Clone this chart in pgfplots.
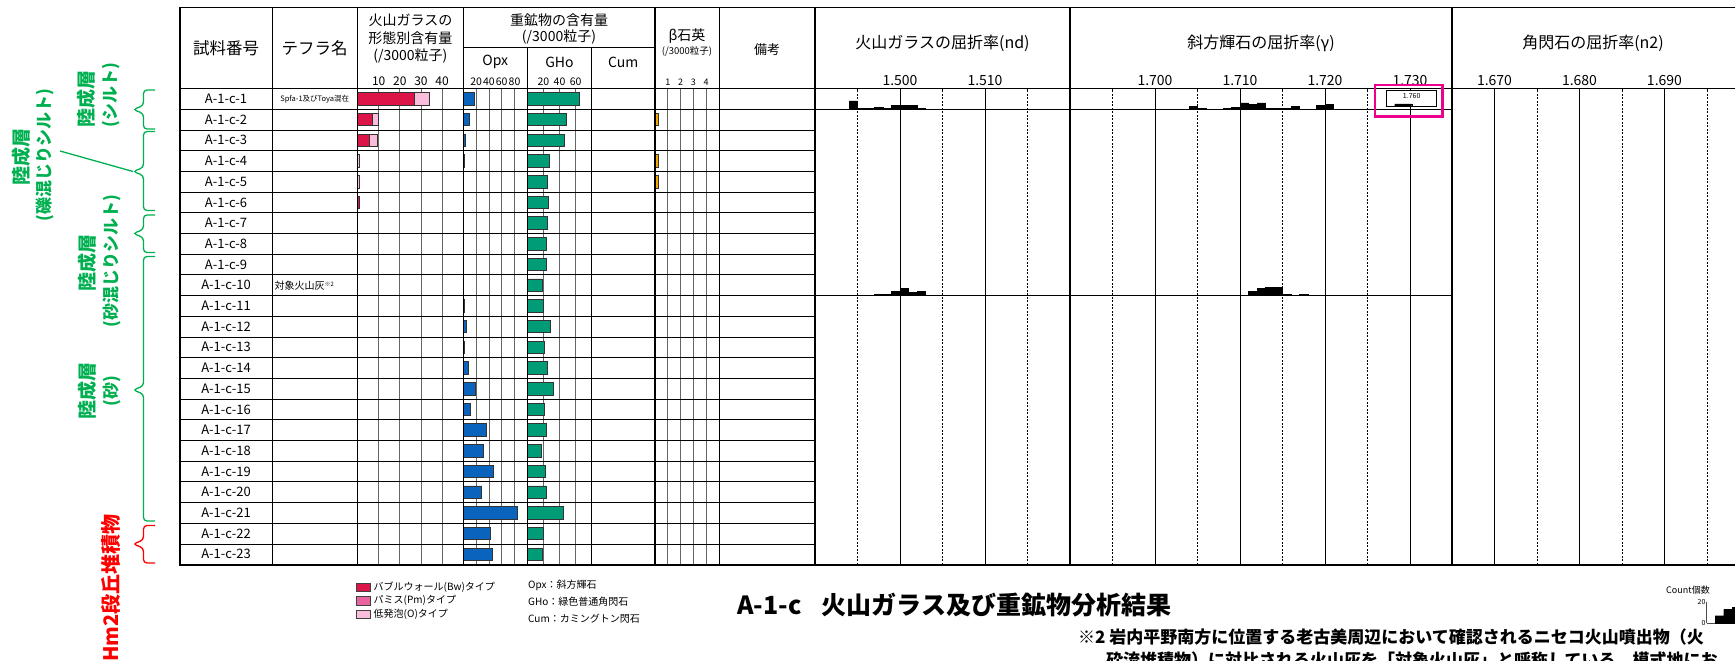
\documentclass[border=0pt]{standalone}
\usepackage{fontspec}
\setmainfont{Noto Sans CJK JP}
\usepackage{pgfplots}
\pgfplotsset{compat=1.18}

\definecolor{bw}{HTML}{DC1448}
\definecolor{pm}{HTML}{E8649E}
\definecolor{olow}{HTML}{FBBDDC}
\definecolor{opx}{HTML}{0A64BE}
\definecolor{gho}{HTML}{009C78}
\definecolor{bq}{HTML}{F2AA00}
\definecolor{strat}{HTML}{00B050}
\newcommand{\fs}[1]{\fontsize{#1}{#1}\selectfont}

\pgfplotsset{
  colbar/.style={scale only axis, anchor=south west, height=476.1pt,
    y dir=reverse, ymin=0.5, ymax=23.5, ytick=\empty,
    axis line style={draw=none}, major tick length=0pt,
    xticklabel pos=upper, xmajorgrids,
    major grid style={black!60, line width=0.7pt},
    xticklabel style={anchor=south, inner sep=0pt, yshift=3pt},
    bar width=12.5pt, clip=false},
  riaxis/.style={scale only axis, anchor=south west, height=476.1pt,
    ymin=0, ymax=1, ytick=\empty, axis line style={draw=none},
    major tick length=0pt, minor tick length=0pt,
    xticklabel pos=upper, xmajorgrids, xminorgrids,
    major grid style={black, line width=0.8pt},
    minor grid style={black, line width=0.6pt, dash pattern=on 2pt off 1.5pt},
    xticklabel style={font=\fs{14}, anchor=south, inner sep=0pt, yshift=3pt}},
  hist/.style={scale only axis, anchor=south west, height=20.7pt,
    ymin=0, ymax=20, hide axis, clip=false},
  barstyle/.style={draw=black!80, line width=0.7pt},
}

\begin{document}
\begin{tikzpicture}

% ---- glass shape content (/3000)
\begin{axis}[colbar, xbar stacked, at={(357.5pt,-564.6pt)}, width=105.8pt,
  xmin=0, xmax=50, xtick={10,20,30,40}, xticklabels={10,20,30,40},
  xticklabel style={font=\fs{12}}]
\addplot[barstyle, fill=bw] coordinates {(27,1)(6.8,2)(5.7,3)(0,4)(0,5)(1,6)(0,7)(0,8)(0,9)(0,10)(0,11)(0,12)
  (0,13)(0,14)(0,15)(0,16)(0,17)(0,18)(0,19)(0,20)(0,21)(0,22)(0,23)};
\addplot[barstyle, fill=olow] coordinates {(7,1)(3.2,2)(3.5,3)(0.8,4)(0.7,5)(0,6)(0,7)(0,8)(0,9)(0,10)(0,11)(0,12)
  (0,13)(0,14)(0,15)(0,16)(0,17)(0,18)(0,19)(0,20)(0,21)(0,22)(0,23)};
\end{axis}

% ---- Opx
\begin{axis}[colbar, xbar, at={(463.3pt,-564.6pt)}, width=64pt,
  xmin=0, xmax=100, xtick={20,40,60,80}, xticklabels={20,40,60,80},
  xticklabel style={font=\fs{10.5}}]
\addplot[barstyle, fill=opx] coordinates {(16.7,1)(9.4,2)(3.6,3)(1,4)(0.5,5)(0.5,6)(0,7)(0,8)(0.5,9)(0.5,10)
  (1.5,11)(5.2,12)(2,13)(7.8,14)(18.8,15)(11,16)(36.5,17)(31.8,18)(47,19)(28.7,20)(85,21)(42.7,22)(45.4,23)};
\end{axis}

% ---- GHo
\begin{axis}[colbar, xbar, at={(527.3pt,-564.6pt)}, width=64.4pt,
  xmin=0, xmax=80, xtick={20,40,60}, xticklabels={20,40,60},
  xticklabel style={font=\fs{10.5}}]
\addplot[barstyle, fill=gho] coordinates {(65,1)(48,2)(46,3)(27,4)(25,5)(26,6)(25,7)(23.4,8)(23.4,9)(18.4,10)
  (20,11)(29,12)(21,13)(25,14)(32.5,15)(21,16)(23.4,17)(17.5,18)(23,19)(23.4,20)(45,21)(20,22)(18.4,23)};
\end{axis}

% ---- beta quartz
\begin{axis}[colbar, xbar, at={(655pt,-564.6pt)}, width=64pt,
  xmin=0, xmax=5, xtick={1,2,3,4}, xticklabels={1,2,3,4},
  xticklabel style={font=\fs{9}}]
\addplot[barstyle, fill=bq] coordinates {(0.25,2)(0.25,4)(0.25,5)};
\end{axis}

% ---- refractive index panels
\begin{axis}[riaxis, at={(815pt,-564.6pt)}, width=255pt, xmin=1.490, xmax=1.520,
  xtick={1.500,1.510}, xticklabels={1.500,1.510}, minor xtick={1.495,1.505,1.515}]
\end{axis}
\begin{axis}[riaxis, at={(1070pt,-564.6pt)}, width=382.5pt, xmin=1.690, xmax=1.735,
  xtick={1.700,1.710,1.720,1.730}, xticklabels={1.700,1.710,1.720,1.730},
  minor xtick={1.695,1.705,1.715,1.725}]
\end{axis}
\begin{axis}[riaxis, at={(1452pt,-564.6pt)}, width=283pt, xmin=1.665, xmax=1.6983,
  xtick={1.670,1.680,1.690}, xticklabels={1.670,1.680,1.690},
  minor xtick={1.675,1.685,1.695}]
\end{axis}

% ---- histograms (count, bins of 0.001)
\begin{axis}[hist, at={(815pt,-109.2pt)}, width=255pt, xmin=1.490, xmax=1.520]
\addplot[ybar interval, fill=black, draw=black] coordinates {(1.494,8)(1.495,1)(1.496,1)(1.497,2)(1.498,1)
  (1.499,4)(1.500,4)(1.501,4)(1.502,1)(1.503,1)};
\end{axis}
\begin{axis}[hist, at={(815pt,-295.5pt)}, width=255pt, xmin=1.490, xmax=1.520]
\addplot[ybar interval, fill=black, draw=black] coordinates {(1.497,1)(1.498,1)(1.499,4)(1.500,7)(1.501,3)
  (1.502,4)(1.503,4)};
\end{axis}
\begin{axis}[hist, at={(1070pt,-109.2pt)}, width=382.5pt, xmin=1.690, xmax=1.735]
\addplot[ybar interval, fill=black, draw=black] coordinates {(1.704,3)(1.705,1)(1.706,0)(1.707,0)(1.708,1)
  (1.709,2)(1.710,6)(1.711,5)(1.712,6)(1.713,1)(1.714,1)(1.715,1)(1.716,3)(1.717,0)(1.718,0)
  (1.719,4)(1.720,5)(1.721,5)};
\end{axis}
\begin{axis}[hist, at={(1070pt,-295.5pt)}, width=382.5pt, xmin=1.690, xmax=1.735]
\addplot[ybar interval, fill=black, draw=black] coordinates {(1.711,4)(1.712,7)(1.713,8)(1.714,8)(1.715,1)
  (1.716,0)(1.717,1)(1.718,1)};
\end{axis}

\begin{scope}[x=1pt,y=-1pt]
% row lines
\foreach \k in {1,...,22} \draw[line width=0.8pt] (180,{88.5+20.7*\k}) -- (815,{88.5+20.7*\k});
\draw[line width=1pt] (815,109.2) -- (1452,109.2);
\draw[line width=1pt] (815,295.5) -- (1452,295.5);
% frame and columns
\draw[line width=1.8pt] (180,7.5) -- (1735,7.5);
\draw[line width=1.8pt] (180,88.5) -- (1735,88.5);
\draw[line width=2pt] (179,564.6) -- (1735,564.6);
\draw[line width=2pt] (180,7.5) -- (180,564.6);
\draw[line width=0.9pt] (272,7.5) -- (272,564.6);
\draw[line width=1.6pt] (357.5,7.5) -- (357.5,564.6);
\draw[line width=1.6pt] (463.3,7.5) -- (463.3,564.6);
\draw[line width=1.6pt] (527.3,47.5) -- (527.3,564.6);
\draw[line width=1pt] (591.7,47.5) -- (591.7,564.6);
\draw[line width=1.4pt] (655,7.5) -- (655,564.6);
\draw[line width=1pt] (719,7.5) -- (719,564.6);
\draw[line width=0.9pt] (463.3,47.5) -- (655,47.5);
\draw[line width=2pt] (815,7.5) -- (815,564.6);
\draw[line width=2pt] (1070,7.5) -- (1070,564.6);
\draw[line width=2pt] (1452,7.5) -- (1452,564.6);

% header text
\node[font=\fs{16.5}] at (226,48) {試料番号};
\node[font=\fs{16.5}] at (314.7,48) {テフラ名};
\node[font=\fs{14}] at (410.4,20.5) {火山ガラスの};
\node[font=\fs{14}] at (410.4,38) {形態別含有量};
\node[font=\fs{14}] at (410.4,56) {(/3000粒子)};
\node[font=\fs{14}] at (559,20) {重鉱物の含有量};
\node[font=\fs{14}] at (559,36.5) {(/3000粒子)};
\node[font=\fs{14}] at (495.3,62) {Opx};
\node[font=\fs{14}] at (559.5,62) {GHo};
\node[font=\fs{14}] at (623.3,62) {Cum};
\node[font=\fs{14}] at (687,36) {β石英};
\node[font=\fs{9.5}] at (687,51.5) {(/3000粒子)};
\node[font=\fs{13}] at (767,50) {備考};
\node[font=\fs{16}] at (942.5,43) {火山ガラスの屈折率(nd)};
\node[font=\fs{16}] at (1261,43) {斜方輝石の屈折率(γ)};
\node[font=\fs{16}] at (1593,43) {角閃石の屈折率(n2)};

% row labels
\foreach \k in {1,...,23} \node[font=\fs{13}] at (226,{88.5+20.7*(\k-0.5)}) {A-1-c-\k};
\node[font=\fs{7.5}] at (314.7,98.8) {Spfa-1及びToya混在};
\node[font=\fs{10}, anchor=west, inner sep=1pt] at (273.5,285.2) {対象火山灰\raisebox{3pt}{\fs{6}※2}};

% strata braces
\foreach \t/\b/\m/\c in {90/129/109.5/strat, 131.5/210.5/171.5/strat, 215/252.5/233.5/strat,
  256.5/521/390/strat, 525.5/563/544/red}
  \draw[\c, line width=1.3pt, rounded corners=3.5pt] (155,\t) -- (143.5,\t) -- (143.5,\m-4)
    -- (133,\m) -- (143.5,\m+4) -- (143.5,\b) -- (155,\b);
\draw[strat, line width=1.3pt] (133,171.5) -- (60,151);
\node[strat, rotate=90, font=\bfseries\fs{19}] at (86,99) {陸成層};
\node[strat, rotate=90, font=\bfseries\fs{17}] at (111,95) {(シルト)};
\node[strat, rotate=90, font=\bfseries\fs{19}] at (21,157) {陸成層};
\node[strat, rotate=90, font=\bfseries\fs{17}] at (45,155) {(礫混じりシルト)};
\node[strat, rotate=90, font=\bfseries\fs{19}] at (87,263) {陸成層};
\node[strat, rotate=90, font=\bfseries\fs{17}] at (112,261) {(砂混じりシルト)};
\node[strat, rotate=90, font=\bfseries\fs{19}] at (87,391) {陸成層};
\node[strat, rotate=90, font=\bfseries\fs{17}] at (112,391) {(砂)};
\node[red, rotate=90, font=\bfseries\fs{20}] at (111,588) {Hm2段丘堆積物};

% legend
\draw[fill=bw, draw=black!75, line width=0.7pt] (356,583) rectangle (370.5,591.5);
\draw[fill=pm, draw=black!75, line width=0.7pt] (356,596.5) rectangle (370.5,605);
\draw[fill=olow, draw=black!75, line width=0.7pt] (356,610) rectangle (370.5,618.5);
\node[font=\fs{10}, anchor=west, inner sep=0pt] at (373.5,587.3) {バブルウォール(Bw)タイプ};
\node[font=\fs{10}, anchor=west, inner sep=0pt] at (373.5,600.8) {パミス(Pm)タイプ};
\node[font=\fs{10}, anchor=west, inner sep=0pt] at (373.5,614.3) {低発泡(O)タイプ};
\node[font=\fs{10}, anchor=west, inner sep=0pt] at (528,585) {Opx：斜方輝石};
\node[font=\fs{10}, anchor=west, inner sep=0pt] at (528,601.7) {GHo：緑色普通角閃石};
\node[font=\fs{10}, anchor=west, inner sep=0pt] at (528,618.3) {Cum：カミングトン閃石};

% title and note
\node[font=\bfseries\fs{25}, anchor=west, inner sep=0pt] at (737,605) {A-1-c\hspace{0.8em}火山ガラス及び重鉱物分析結果};
\node[font=\bfseries\fs{17}, anchor=west, inner sep=0pt] at (1078,637) {※2 岩内平野南方に位置する老古美周辺において確認されるニセコ火山噴出物（火};
\node[font=\bfseries\fs{17}, anchor=west, inner sep=0pt] at (1106,660) {砕流堆積物）に対比される火山灰を「対象火山灰」と呼称している。模式地にお};
\node[font=\fs{9}] at (1688,590) {Count個数};

% inset for value outside the range
\draw[fill=white, line width=0.8pt] (1386.7,90.7) rectangle (1436.7,106);
\node[font=\fs{7}] at (1411.7,96.3) {1.760};
\end{scope}

\begin{axis}[hist, at={(1386.7pt,-106pt)}, width=50pt, xmin=1.75706, xmax=1.76294]
\addplot[ybar interval, fill=black, draw=black] coordinates {(1.758,2)(1.759,2)(1.760,0)(1.761,0)(1.762,0)};
\end{axis}

% count scale sample
\begin{axis}[scale only axis, anchor=south west, at={(1706.7pt,-623.3pt)}, width=34pt, height=21.6pt,
  xmin=0, xmax=4, ymin=0, ymax=20, axis x line=bottom, axis y line=left,
  axis line style={black!70, line width=0.5pt, -}, xtick=\empty, ytick={0,20}, yticklabels={0,20},
  yticklabel style={font=\fs{7}, inner sep=1pt}, major tick length=0pt, clip=false]
\addplot[ybar interval, fill=black, draw=black] coordinates {(1,7)(2,13)(3,15)(4,15)};
\end{axis}

\begin{scope}[x=1pt,y=-1pt]
\draw[magenta, line width=2.5pt] (1375,85) rectangle (1442.7,116.7);
\pgfresetboundingbox
\useasboundingbox (0,0) rectangle (1735,661);
\end{scope}
\end{tikzpicture}
\end{document}
